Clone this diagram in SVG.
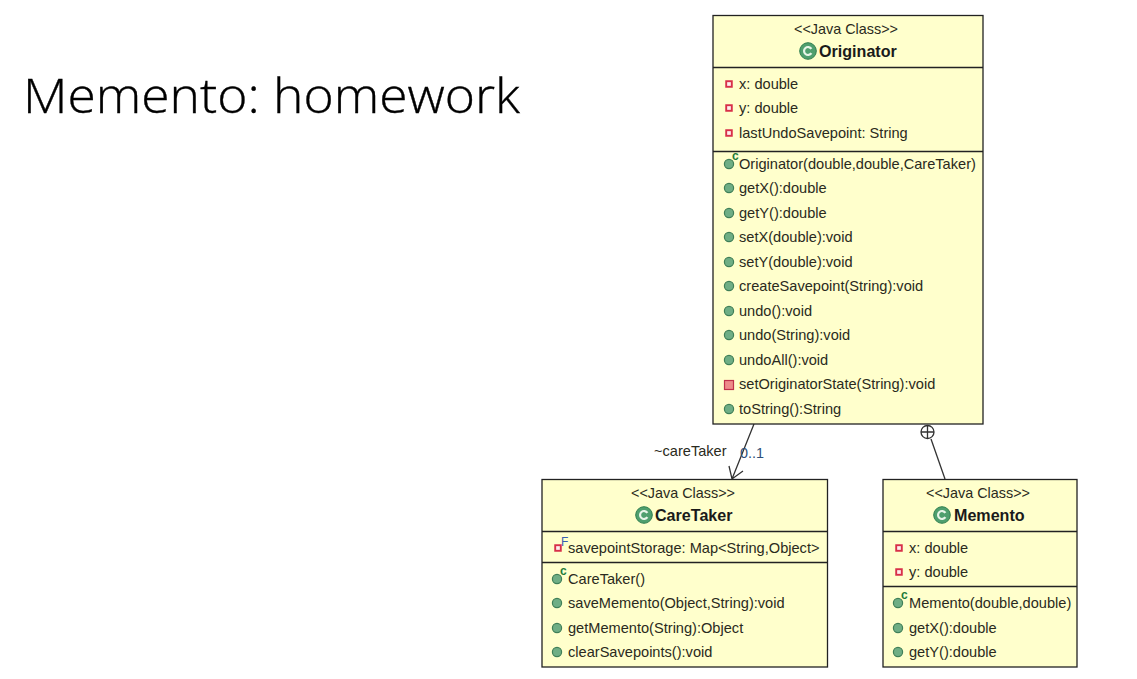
<svg xmlns="http://www.w3.org/2000/svg" xmlns:xlink="http://www.w3.org/1999/xlink" width="1137" height="679" viewBox="0 0 1137 679">
<style>
text{font-family:"Liberation Sans",Arial,sans-serif;font-size:14.6px;fill:#2a2a20}
.title{font-family:"Open Sans",sans-serif;font-weight:300;font-size:48px;fill:#000;stroke:#000;stroke-width:.35}
.st{font-size:14.4px;text-anchor:middle}
.nm{font-size:16.1px;font-weight:bold;fill:#1a1a1a}
.box{fill:#ffffcc;stroke:#222;stroke-width:1.3}
.sep{stroke:#222;stroke-width:1.3;fill:none}
.conn{stroke:#333;stroke-width:1.3;fill:none}
.lab{font-size:14.6px}
.mult{font-size:14.4px;fill:#2f4f78}
.cc{font-size:12px;font-weight:bold;fill:#1f7a3a}
.ff{font-size:12px;fill:#3a5fb0}
</style>
<defs>
<g id="pub"><circle r="4.6" fill="#6fae85" stroke="#3f7f58" stroke-width="1.2"/></g>
<g id="priv"><rect x="-2.800" y="-2.800" width="5.600" height="5.600" fill="#ffeeee" stroke="#d8304a" stroke-width="1.9"/></g>
<g id="privm"><rect x="-4.500" y="-4.500" width="9" height="9" fill="#ee8a8a" stroke="#c0304a" stroke-width="1.2"/></g>
<g id="cls"><circle r="8.300" fill="#4f9f6e" stroke="#2f7f50" stroke-width="1"/><path d="M3.400 -2.200A4 4 0 1 0 3.400 2.200" fill="none" stroke="#e8f4e8" stroke-width="2.200"/></g>
<g id="ctor"><circle r="4.600" fill="#6fae85" stroke="#3f7f58" stroke-width="1.200"/></g>
</defs>
<text class="title" x="23" y="113" textLength="497" lengthAdjust="spacingAndGlyphs">Memento: homework</text>

<g id="connectors">
<path class="conn" d="M754 424L732 479M729 466L732 479L743 471"/>
<path class="conn" d="M931 439L945 479"/>
<circle class="conn" cx="927.500" cy="432" r="6.500"/>
<path class="conn" d="M921 432H934M927.500 425.500V438.500"/>
<text class="lab" x="654" y="456">~careTaker</text>
<text class="mult" x="740" y="458">0..1</text>
</g>

<g id="originator">
<rect class="box" x="713" y="15.500" width="270" height="408.500"/>
<path class="sep" d="M713 67.500H983M713 151.500H983"/>
<text class="st" x="846" y="34">&lt;&lt;Java Class&gt;&gt;</text>
<use href="#cls" x="808" y="51"/>
<text class="nm" x="819" y="57">Originator</text>
<use href="#priv" x="729" y="84"/><text x="739" y="88.500">x: double</text>
<use href="#priv" x="729" y="108"/><text x="739" y="113">y: double</text>
<use href="#priv" x="729" y="133"/><text x="739" y="137.500">lastUndoSavepoint: String</text>
<use href="#ctor" x="729" y="164"/><text class="cc" x="732" y="160">c</text><text x="739" y="169">Originator(double,double,CareTaker)</text>
<use href="#pub" x="729" y="188"/><text x="739" y="193">getX():double</text>
<use href="#pub" x="729" y="213"/><text x="739" y="217.500">getY():double</text>
<use href="#pub" x="729" y="237"/><text x="739" y="242">setX(double):void</text>
<use href="#pub" x="729" y="262"/><text x="739" y="266.500">setY(double):void</text>
<use href="#pub" x="729" y="286"/><text x="739" y="291">createSavepoint(String):void</text>
<use href="#pub" x="729" y="311"/><text x="739" y="315.500">undo():void</text>
<use href="#pub" x="729" y="335"/><text x="739" y="340">undo(String):void</text>
<use href="#pub" x="729" y="360"/><text x="739" y="364.500">undoAll():void</text>
<use href="#privm" x="729" y="385"/><text x="739" y="389">setOriginatorState(String):void</text>
<use href="#pub" x="729" y="409"/><text x="739" y="413.500">toString():String</text>
</g>

<g id="caretaker">
<rect class="box" x="542" y="479.500" width="285.500" height="187.500"/>
<path class="sep" d="M542 531.500H827.500M542 562.500H827.500"/>
<text class="st" x="683" y="498">&lt;&lt;Java Class&gt;&gt;</text>
<use href="#cls" x="644" y="515"/>
<text class="nm" x="655" y="521">CareTaker</text>
<use href="#priv" x="558" y="548"/><text class="ff" x="561" y="546">F</text><text x="568" y="552.500">savepointStorage: Map&lt;String,Object&gt;</text>
<use href="#ctor" x="557" y="579"/><text class="cc" x="560" y="575">c</text><text x="568" y="584">CareTaker()</text>
<use href="#pub" x="557" y="603"/><text x="568" y="608">saveMemento(Object,String):void</text>
<use href="#pub" x="557" y="628"/><text x="568" y="632.500">getMemento(String):Object</text>
<use href="#pub" x="557" y="652"/><text x="568" y="657">clearSavepoints():void</text>
</g>

<g id="memento">
<rect class="box" x="883" y="479.500" width="194" height="187.500"/>
<path class="sep" d="M883 531.500H1077M883 586.500H1077"/>
<text class="st" x="978" y="498">&lt;&lt;Java Class&gt;&gt;</text>
<use href="#cls" x="942" y="515"/>
<text class="nm" x="954" y="521">Memento</text>
<use href="#priv" x="899" y="548"/><text x="909" y="552.500">x: double</text>
<use href="#priv" x="899" y="572"/><text x="909" y="576.500">y: double</text>
<use href="#ctor" x="898" y="603"/><text class="cc" x="901" y="599">c</text><text x="909" y="608">Memento(double,double)</text>
<use href="#pub" x="898" y="628"/><text x="909" y="632.500">getX():double</text>
<use href="#pub" x="898" y="652"/><text x="909" y="657">getY():double</text>
</g>
</svg>
